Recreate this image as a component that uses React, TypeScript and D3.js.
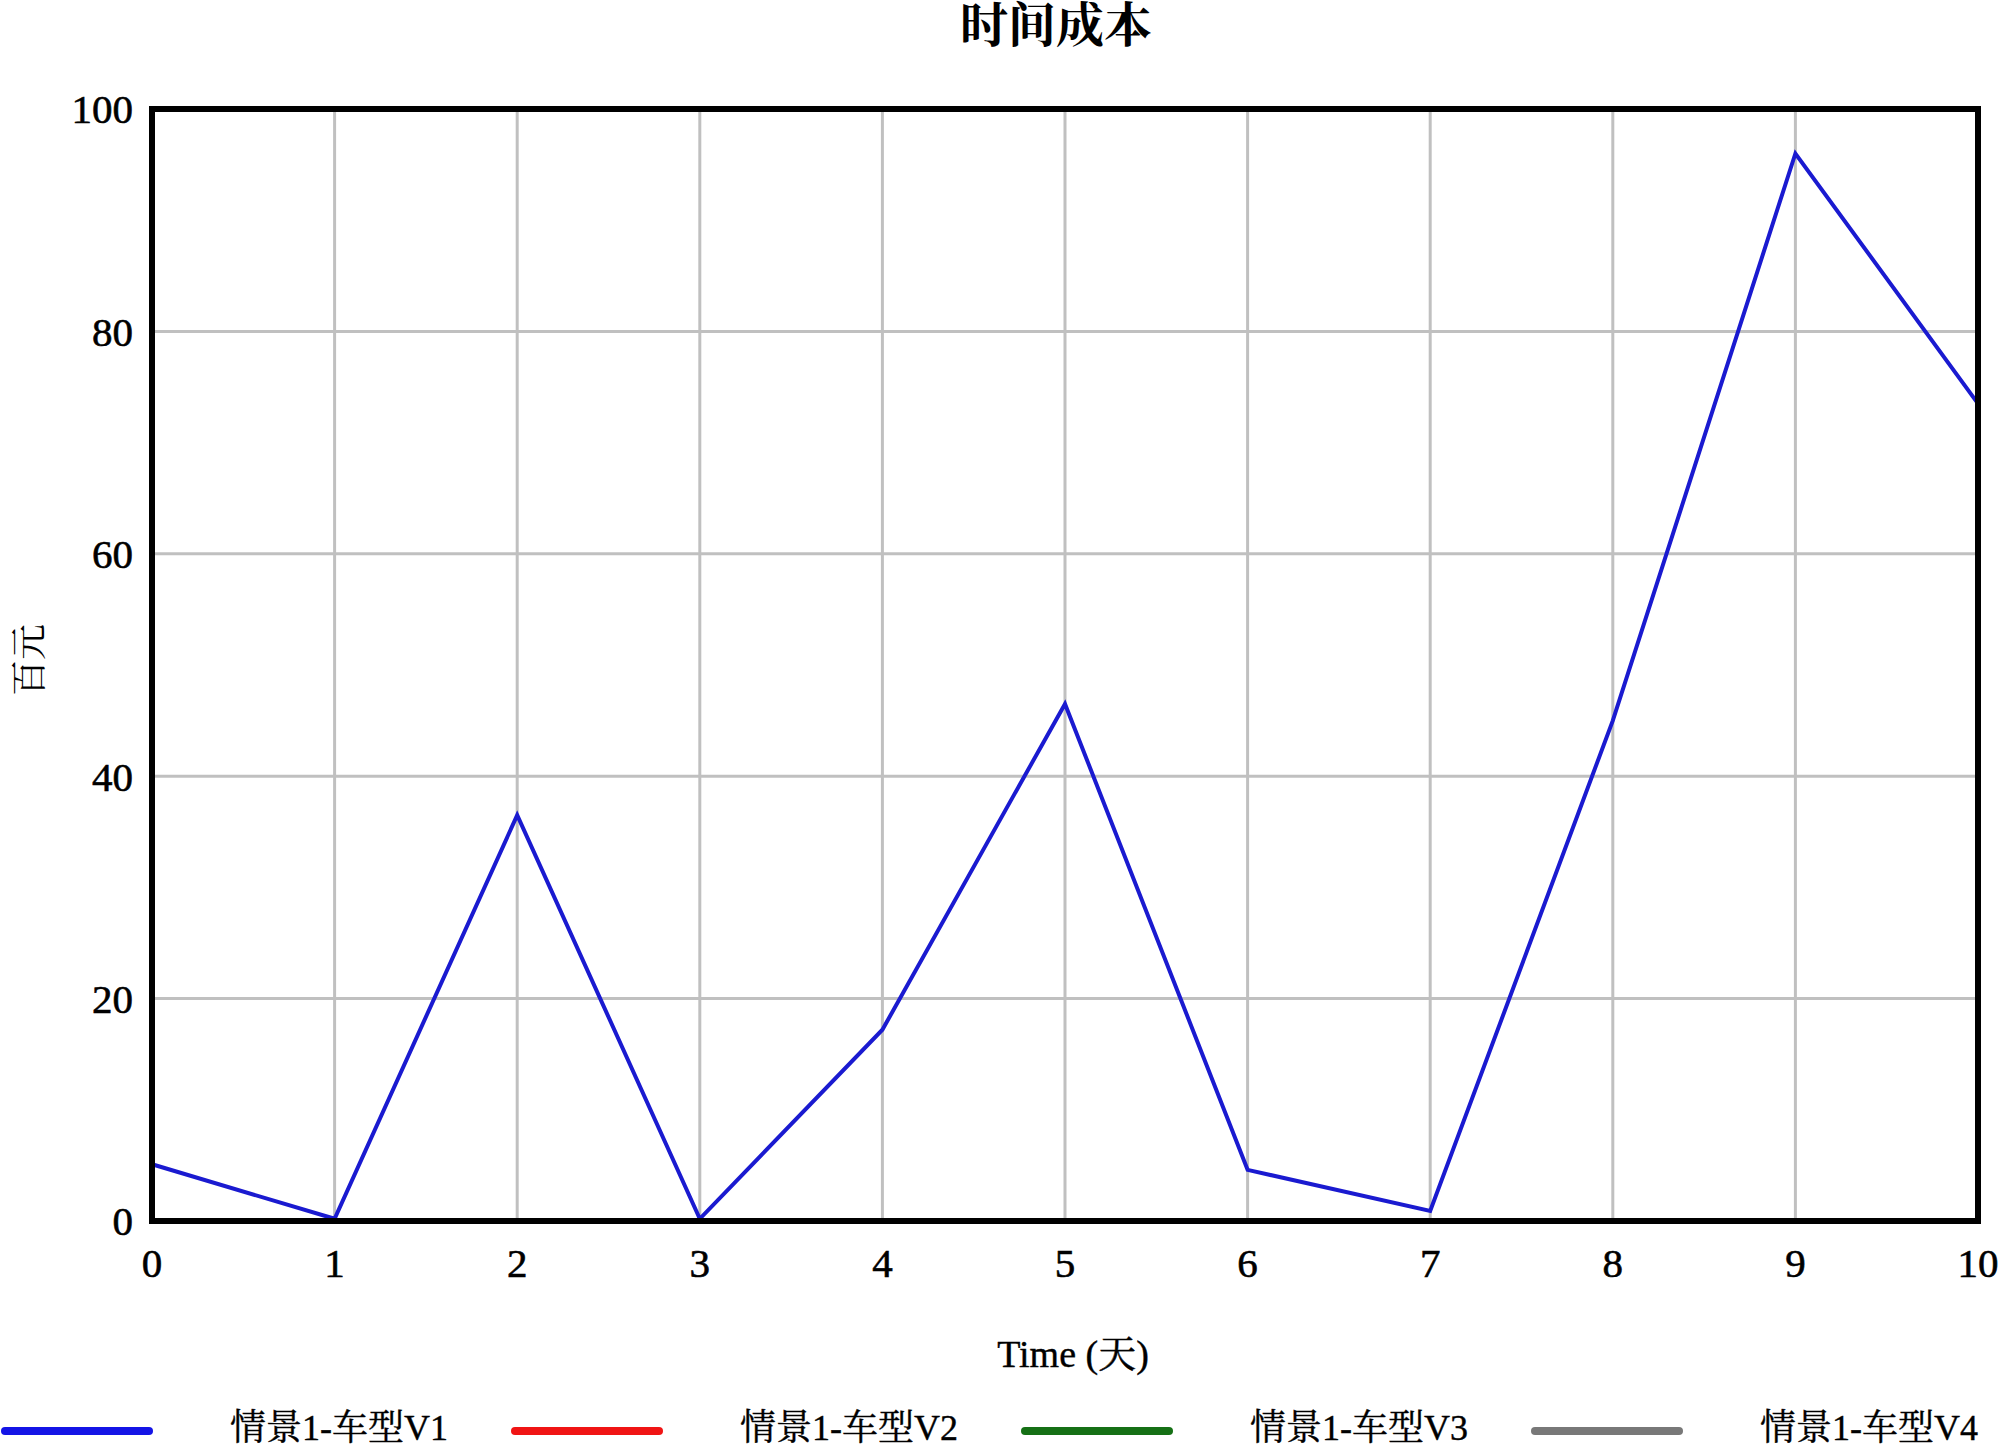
import React from "react";
import * as d3 from "d3";

const times: number[] = [0, 1, 2, 3, 4, 5, 6, 7, 8, 9, 10];
const costV1: number[] = [5.1, 0.2, 36.5, 0.2, 17.2, 46.5, 4.6, 0.9, 45.0, 96.0, 73.5];
const yTicks: number[] = [0, 20, 40, 60, 80, 100];
const xTicks: number[] = [0, 1, 2, 3, 4, 5, 6, 7, 8, 9, 10];
const legendNames: string[] = ["情景1-车型V1", "情景1-车型V2", "情景1-车型V3", "情景1-车型V4"];
const legendColors: string[] = ["#1414e6", "#f01414", "#157015", "#787878"];
const title = "时间成本";
const xTitle = "Time (天)";
const yTitle = "百元";

const W = 2000;
const H = 1448;
const M = { left: 152, right: 1978, top: 109, bottom: 1221 };
const FONT = "'Liberation Serif', 'Times New Roman', 'Noto Serif CJK SC', 'Noto Sans CJK SC', serif";

export default function App() {
  const x = d3.scaleLinear().domain([0, 10]).range([M.left, M.right]);
  const y = d3.scaleLinear().domain([0, 100]).range([M.bottom, M.top]);
  const line = d3
    .line<number>()
    .x((_, i) => x(times[i]))
    .y((d) => y(d));

  return (
    <svg
      width={W}
      height={H}
      style={{ position: "absolute", left: 0, top: 0, background: "#fff" }}
      fontFamily={FONT}
    >
      <rect x={0} y={0} width={W} height={H} fill="#fff" />
      {/* grid */}
      {xTicks.map((t) => (
        <line key={"gx" + t} x1={x(t)} x2={x(t)} y1={M.top} y2={M.bottom} stroke="#c0c0c0" strokeWidth={3} />
      ))}
      {yTicks.map((t) => (
        <line key={"gy" + t} x1={M.left} x2={M.right} y1={y(t)} y2={y(t)} stroke="#c0c0c0" strokeWidth={3} />
      ))}
      {/* data line */}
      <path d={line(costV1) || ""} fill="none" stroke="#1a1ad0" strokeWidth={4} strokeLinejoin="miter" />
      {/* frame */}
      <rect
        x={M.left}
        y={M.top}
        width={M.right - M.left}
        height={M.bottom - M.top}
        fill="none"
        stroke="#000"
        strokeWidth={6}
      />
      {/* y tick labels */}
      {yTicks.map((t) => (
        <text key={"yl" + t} x={133} y={y(t)} dy="0.35em" textAnchor="end" fontSize={41} fill="#000" stroke="#000" strokeWidth={0.6}>
          {t}
        </text>
      ))}
      {/* x tick labels */}
      {xTicks.map((t) => (
        <text key={"xl" + t} x={x(t)} y={1277} textAnchor="middle" fontSize={41} fill="#000" stroke="#000" strokeWidth={0.6}>
          {t}
        </text>
      ))}
      {/* title */}
      <text x={1056} y={42} textAnchor="middle" fontSize={48} fontWeight={700} fill="#000">
        {title}
      </text>
      {/* x axis title */}
      <text x={1073} y={1367} textAnchor="middle" fontSize={38} fill="#000" stroke="#000" strokeWidth={0.4}>
        {xTitle}
      </text>
      {/* y axis title */}
      <text
        transform={`translate(42, 660) rotate(-90)`}
        textAnchor="middle"
        fontSize={36}
        fill="#000"
      >
        {yTitle}
      </text>
      {/* legend */}
      {legendNames.map((name, i) => {
        const x0 = 5 + i * 510;
        return (
          <g key={name}>
            <line
              x1={x0}
              x2={x0 + 144}
              y1={1431}
              y2={1431}
              stroke={legendColors[i]}
              strokeWidth={8}
              strokeLinecap="round"
            />
            <text x={x0 + 225} y={1440} fontSize={36} fill="#000" stroke="#000" strokeWidth={0.4}>
              {name}
            </text>
          </g>
        );
      })}
    </svg>
  );
}
